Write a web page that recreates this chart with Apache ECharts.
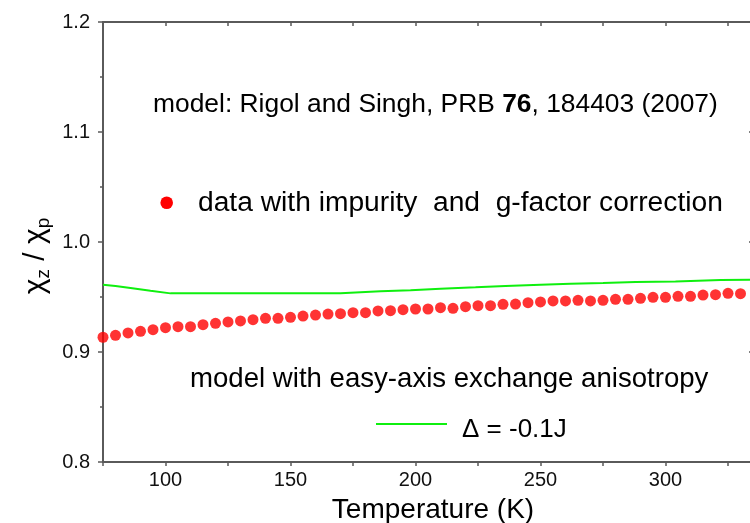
<!DOCTYPE html>
<html>
<head>
<meta charset="utf-8">
<script src="https://cdn.jsdelivr.net/npm/echarts@6/dist/echarts.min.js"></script>
<style>html,body{margin:0;padding:0;background:#fff;}#c{width:750px;height:523px;}</style>
</head>
<body>
<div id="c"></div>
<script>
// Temperature (K) of the measured points
const temps = [75,80,85,90,95,100,105,110,115,120,125,130,135,140,145,150,155,160,165,170,175,180,185,190,195,
  200,205,210,215,220,225,230,235,240,245,250,255,260,265,270,275,280,285,290,295,300,305,310,315,320,325,330];
// chi_z / chi_p, data with impurity and g-factor correction
const chiRatio = [0.9134,0.9152,0.9173,0.9188,0.9203,0.9221,0.9230,0.9230,0.9248,0.9261,0.9273,0.9282,0.9294,0.9306,0.9306,
  0.9315,0.9327,0.9336,0.9345,0.9348,0.9357,0.9357,0.9373,0.9376,0.9385,
  0.9391,0.9391,0.9403,0.9397,0.9412,0.9421,0.9421,0.9433,0.9436,0.9448,0.9455,0.9464,0.9464,0.9470,0.9464,0.9470,
  0.9479,0.9479,0.9488,0.9497,0.9497,0.9506,0.9506,0.9518,0.9521,0.9533,0.9530];
// model with easy-axis exchange anisotropy, Delta = -0.1J
const modelT = [75,80,86,94,102,170,186,198,210,224,236,250,262,275,288,304,322,335];
const modelV = [0.9612,0.9600,0.9582,0.9557,0.9533,0.9533,0.9552,0.9562,0.9576,0.9588,0.9600,0.9612,0.9621,0.9627,0.9636,0.9642,0.9655,0.9656];
// tick labels
const xTickLabels = [100,150,200,250,300];
const yTickLabels = ['0.8','0.9','1.0','1.1','1.2'];

const FONT = '"Liberation Sans", Arial, sans-serif';
const AX = '#5a5a5a';

const chart = echarts.init(document.getElementById('c'), null, {renderer: 'canvas'});
const option = {
  animation: false,
  backgroundColor: '#fff',
  grid: {left: 103, top: 22, width: 650, height: 440, containLabel: false, outerBoundsMode: 'none'},
  xAxis: [
    {type: 'value', position: 'bottom', min: 75, max: 335, interval: 25,
      axisLine: {show: true, lineStyle: {color: AX, width: 2}},
      axisTick: {show: true, inside: false, length: 4, lineStyle: {color: AX, width: 1.5}},
      axisLabel: {show: true, margin: 8, color: '#111', fontFamily: FONT, fontSize: 20,
        formatter: v => xTickLabels.indexOf(Math.round(v)) >= 0 ? String(Math.round(v)) : ''},
      splitLine: {show: false}},
    {type: 'value', position: 'top', min: 75, max: 335, interval: 25,
      axisLine: {show: true, lineStyle: {color: AX, width: 2}},
      axisTick: {show: true, inside: true, length: 4, lineStyle: {color: AX, width: 1.5}},
      axisLabel: {show: false}, splitLine: {show: false}}
  ],
  yAxis: [
    {type: 'value', position: 'left', min: 0.8, max: 1.2, interval: 0.1,
      axisLine: {show: true, lineStyle: {color: AX, width: 2}},
      axisTick: {show: true, inside: false, length: 5, lineStyle: {color: AX, width: 1.5}},
      minorTick: {show: true, splitNumber: 2, length: 3, lineStyle: {color: AX, width: 1.5}},
      axisLabel: {show: true, margin: 13, color: '#111', fontFamily: FONT, fontSize: 20,
        formatter: v => { const s = v.toFixed(1); return yTickLabels.indexOf(s) >= 0 ? s : ''; }},
      splitLine: {show: false}},
    {type: 'value', position: 'right', min: 0.8, max: 1.2, interval: 0.1,
      axisLine: {show: true, lineStyle: {color: AX, width: 2}},
      axisTick: {show: true, inside: true, length: 4, lineStyle: {color: AX, width: 1.5}},
      axisLabel: {show: false}, splitLine: {show: false}}
  ],
  series: [
    {type: 'line', xAxisIndex: 0, yAxisIndex: 0, data: modelT.map((t, i) => [t, modelV[i]]),
      showSymbol: false, symbol: 'none', lineStyle: {color: '#0fef0f', width: 2}, clip: true, z: 2},
    {type: 'scatter', xAxisIndex: 0, yAxisIndex: 0, data: temps.map((t, i) => [t, chiRatio[i]]),
      symbol: 'circle', symbolSize: 11, itemStyle: {color: '#ff0000'}, clip: false, z: 3}
  ],
  graphic: [
    {type: 'text', x: 153, y: 105, z: 10,
      style: {text: 'model: Rigol and Singh, PRB {b|76}, 184403 (2007)', font: '26.4px ' + FONT, fill: '#000',
        verticalAlign: 'middle', align: 'left',
        rich: {b: {fontWeight: 'bold', fontSize: 26.4, fontFamily: FONT, fill: '#000'}}}},
    {type: 'circle', shape: {cx: 166.7, cy: 202.7, r: 6.3}, style: {fill: '#ff0000'}, z: 10},
    {type: 'text', x: 198, y: 203, z: 10,
      style: {text: 'data with impurity  and  g-factor correction', font: '28.2px ' + FONT, fill: '#000',
        verticalAlign: 'middle', align: 'left'}},
    {type: 'text', x: 190, y: 379, z: 10,
      style: {text: 'model with easy-axis exchange anisotropy', font: '27.6px ' + FONT, fill: '#000',
        verticalAlign: 'middle', align: 'left'}},
    {type: 'line', shape: {x1: 376, y1: 424, x2: 447, y2: 424}, style: {stroke: '#0fef0f', lineWidth: 2}, z: 10},
    {type: 'text', x: 462, y: 430, z: 10,
      style: {text: 'Δ = -0.1J', font: '26px ' + FONT, fill: '#000', verticalAlign: 'middle', align: 'left'}},
    {type: 'text', x: 433, y: 510, z: 10,
      style: {text: 'Temperature (K)', font: '28px ' + FONT, fill: '#000', verticalAlign: 'middle', align: 'center'}},
    {type: 'text', x: 36, y: 256, rotation: Math.PI / 2, z: 10,
      style: {text: '{c|χ}{s|z}{c| / χ}{s|p}', fill: '#000', align: 'center', verticalAlign: 'middle',
        rich: {
          c: {fontSize: 30, fontFamily: FONT, fill: '#000', lineHeight: 36},
          s: {fontSize: 19, fontFamily: FONT, fill: '#000', lineHeight: 36, padding: [15, 0, 0, 0]}
        }}}
  ]
};
chart.setOption(option);
</script>
</body>
</html>
